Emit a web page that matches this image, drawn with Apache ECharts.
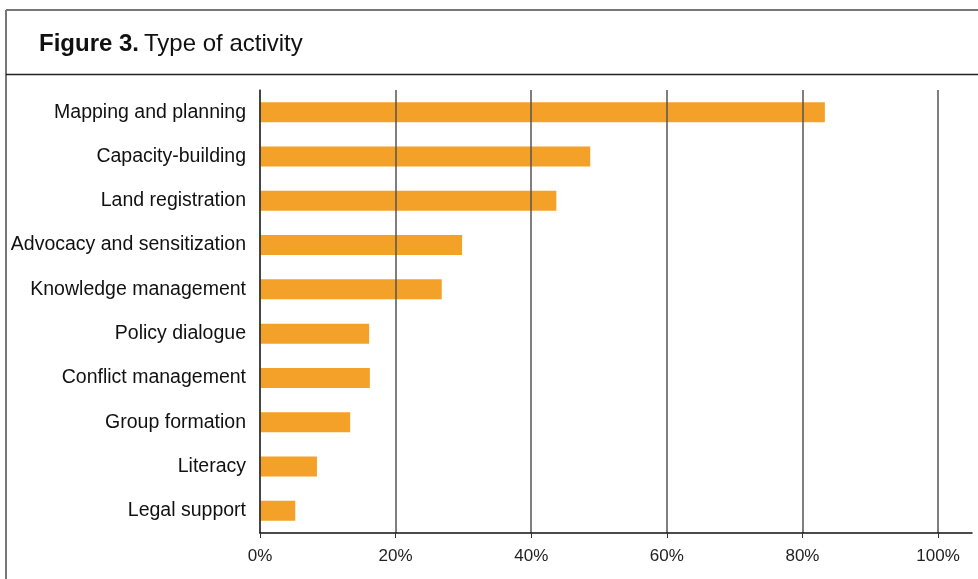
<!DOCTYPE html>
<html>
<head>
<meta charset="utf-8">
<script src="https://cdn.jsdelivr.net/npm/echarts@6/dist/echarts.min.js"></script>
<style>
  html, body { margin: 0; padding: 0; background: #fff; }
  #chart { width: 978px; height: 579px; }
</style>
</head>
<body>
<div id="chart"></div>
<script>
const categories = [
  'Mapping and planning',
  'Capacity-building',
  'Land registration',
  'Advocacy and sensitization',
  'Knowledge management',
  'Policy dialogue',
  'Conflict management',
  'Group formation',
  'Literacy',
  'Legal support'
];
const shares = [83.3, 48.7, 43.7, 29.8, 26.8, 16.1, 16.2, 13.3, 8.4, 5.2];
const tickValues = [0, 20, 40, 60, 80, 100];

const chart = echarts.init(document.getElementById('chart'));

chart.setOption({
  animation: false,
  title: {
    left: 34,
    top: 27,
    text: '{b|Figure 3.} {n|Type of activity}',
    textStyle: {
      rich: {
        b: { fontFamily: 'Liberation Sans, Arial', fontWeight: 'bold', fontSize: 24, color: '#111' },
        n: { fontFamily: 'Liberation Sans, Arial', fontWeight: 'normal', fontSize: 24, color: '#111' }
      }
    }
  },
  // frame round the figure
  graphic: [
    { type: 'line', shape: { x1: 6, y1: 10, x2: 978, y2: 10 }, style: { stroke: '#777', lineWidth: 2 } },
    { type: 'line', shape: { x1: 6, y1: 10, x2: 6, y2: 579 }, style: { stroke: '#777', lineWidth: 2 } },
    { type: 'line', shape: { x1: 6, y1: 74.5, x2: 978, y2: 74.5 }, style: { stroke: '#222', lineWidth: 1.5 } }
  ],
  grid: { left: 260, right: 6, top: 90, bottom: 46, containLabel: false },
  xAxis: {
    type: 'value',
    min: 0,
    max: 105,
    interval: 20,
    z: 3,
    axisLine: { show: true, lineStyle: { color: '#111', width: 1.5 } },
    axisTick: { show: true, length: 5, customValues: tickValues, lineStyle: { color: '#333' } },
    axisLabel: {
      customValues: tickValues,
      formatter: '{value}%',
      margin: 15,
      fontFamily: 'Liberation Sans, Arial',
      fontSize: 17,
      color: '#222'
    },
    splitLine: { show: true, lineStyle: { color: '#555', width: 1.5 } }
  },
  yAxis: {
    type: 'category',
    data: categories,
    inverse: true,
    z: 3,
    axisLine: { show: true, lineStyle: { color: '#333', width: 1.5 } },
    axisTick: { show: false },
    axisLabel: {
      margin: 14,
      padding: [6, 0, 0, 0],
      fontFamily: 'Liberation Sans, Arial',
      fontSize: 19.5,
      color: '#111'
    }
  },
  series: [{
    type: 'bar',
    data: shares,
    barWidth: 20,
    itemStyle: { color: '#f4a12a' }
  }]
});
</script>
</body>
</html>
